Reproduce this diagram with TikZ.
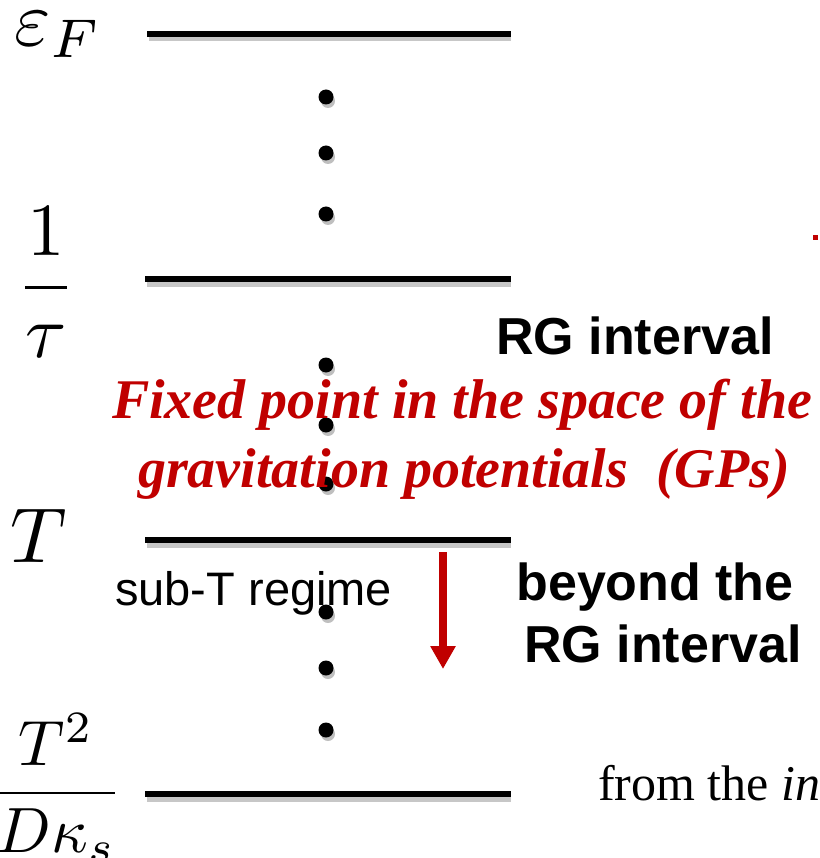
\documentclass[tikz,border=0pt]{standalone}
\usepackage{fontspec}
\usepackage{graphicx}
\setmainfont{Liberation Serif}
\setsansfont{Liberation Sans}
\usetikzlibrary{arrows.meta}
\definecolor{rgred}{HTML}{C00000}
\newcommand{\bigmath}[2]{\scalebox{#1}{$\displaystyle #2$}}
\begin{document}
\begin{tikzpicture}[x=1pt,y=-1pt,
  level/.style={line width=6pt},
  levelshadow/.style={line width=5pt,black!22},
  dotmark/.style={circle,fill=black,inner sep=0pt,minimum size=15pt},
  dotshadow/.style={circle,fill=black!25,inner sep=0pt,minimum size=14pt},
  mathlabel/.style={inner sep=0pt},
  boldsans/.style={inner sep=0pt,font=\fontsize{52}{62}\selectfont\sffamily\bfseries,align=center},
  redtext/.style={inner sep=0pt,text=rgred,font=\fontsize{56}{69}\selectfont\bfseries\itshape,align=center},
  arrowline/.style={rgred,line width=7.5pt,-{Triangle[length=23pt,width=24pt]}}]
\useasboundingbox (0,0) rectangle (819,858);
\clip (0,0) rectangle (819,858);
% level lines
\coordinate (l1a) at (147,34);  \coordinate (l1b) at (511,34);
\coordinate (l2a) at (145,279); \coordinate (l2b) at (511,279);
\coordinate (l3a) at (145,540); \coordinate (l3b) at (511,540);
\coordinate (l4a) at (145,794); \coordinate (l4b) at (511,794);
\foreach \a/\b in {l1a/l1b,l2a/l2b,l3a/l3b,l4a/l4b}{
  \draw[levelshadow] ([shift={(2,5)}]\a) -- ([shift={(0,5)}]\b);
  \draw[level] (\a) -- (\b);
}
% dots
\foreach \y [count=\i] in {97,153,214,365,425,484,612,668,730}{
  \node[dotshadow] at (328,\y+4) {};
  \node[dotmark] (d\i) at (326,\y) {};
}
% labels on the left
\node[mathlabel,anchor=base west] (eF) at (14,46) {\bigmath{7.8}{\varepsilon_F}};
\node[mathlabel,anchor=base] (tau) at (46,306) {\bigmath{7.5}{\frac{1}{\tau}}};
\node[mathlabel,anchor=base west] (T) at (10,562) {\bigmath{7.8}{T}};
\node[mathlabel,anchor=base] (T2) at (56,809) {\bigmath{6.4}{\frac{T^2}{D\kappa_s}}};
% texts
\node[boldsans,anchor=base west] (rg) at (496,354) {RG interval};
\node[redtext,anchor=base] (fp1) at (462,418) {Fixed point in the space of the};
\node[redtext,anchor=base] (fp2) at (464,487) {gravitation potentials\ \ (GPs)};
\node[inner sep=0pt,anchor=base west,font=\fontsize{47}{56}\selectfont\sffamily] (sub) at (115,605) {sub-T regime};
\node[boldsans,anchor=base] (bey1) at (655,600) {beyond the};
\node[boldsans,anchor=base] (bey2) at (663,662) {RG interval};
\node[inner sep=0pt,anchor=base west,font=\fontsize{50}{60}\selectfont] (from) at (598,800) {from the \textit{in}};
% red arrow
\coordinate (arrS) at (443,552);
\coordinate (arrE) at (443,669);
\draw[arrowline] (arrS) -- (arrE);
% stray red mark
\fill[rgred] (813,235) rectangle (818,240);
\end{tikzpicture}
\end{document}
